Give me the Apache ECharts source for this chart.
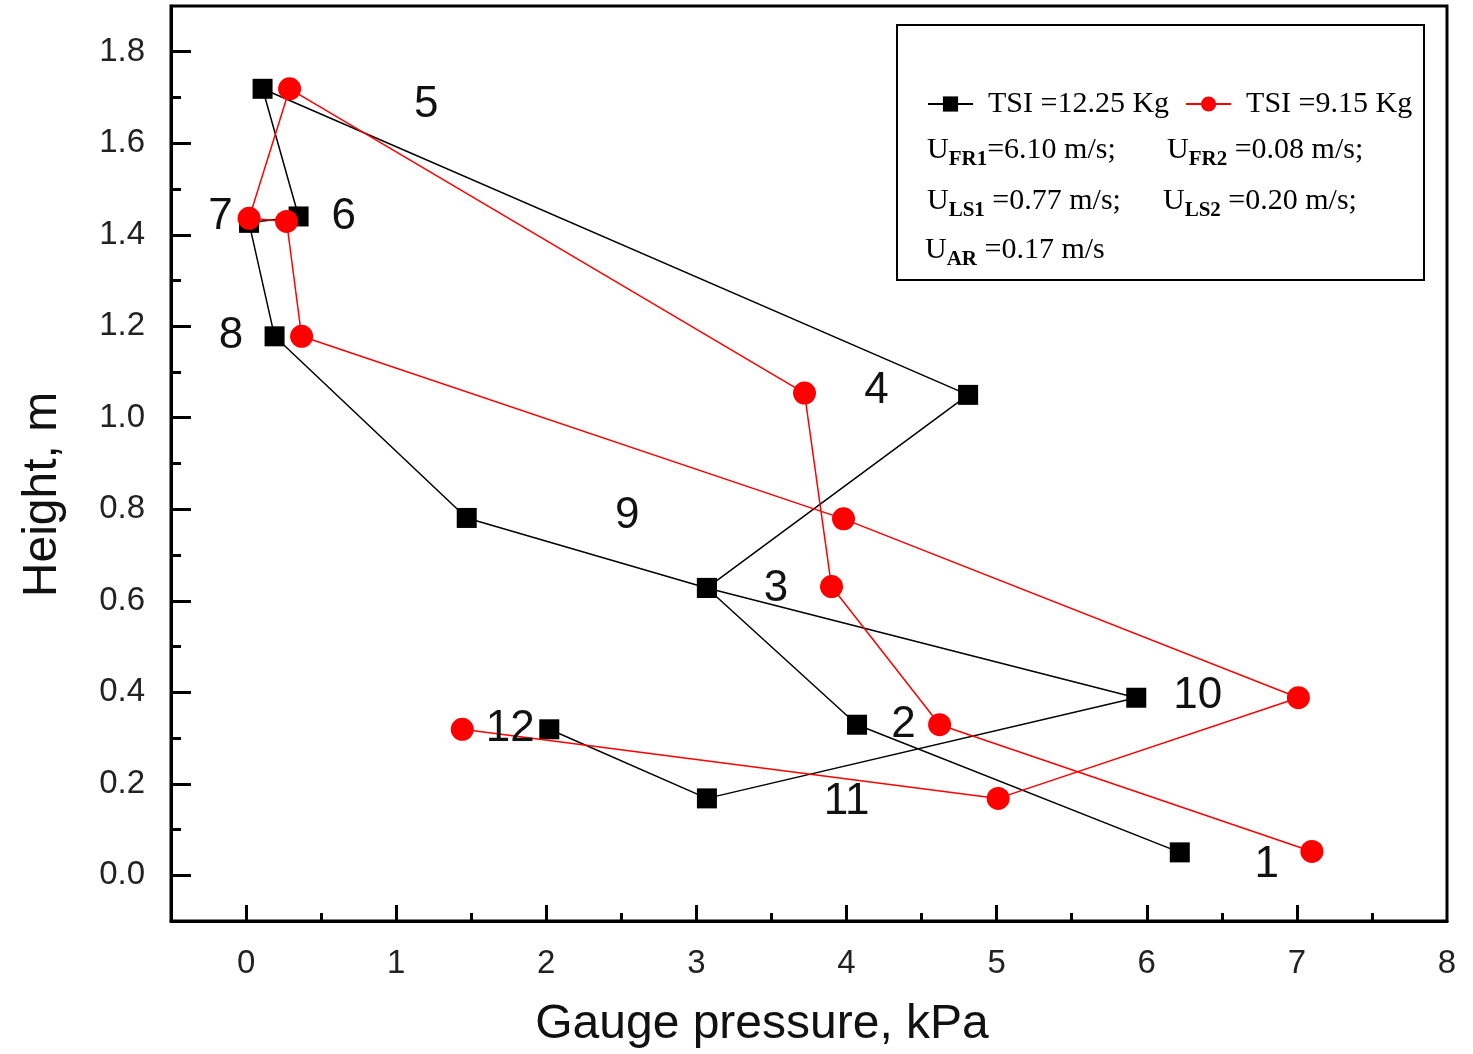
<!DOCTYPE html>
<html>
<head>
<meta charset="utf-8">
<title>Gauge pressure profile</title>
<script src="https://cdn.jsdelivr.net/npm/echarts@6/dist/echarts.min.js"></script>
<style>
  html, body { margin: 0; padding: 0; background: #fff; }
  #main { width: 1473px; height: 1054px; }
</style>
</head>
<body>
<div id="main"></div>
<script>
// data: [gauge pressure kPa, height m], in drawing order
var tsi1225 = [[6.22, 0.050], [4.07, 0.329], [3.07, 0.628], [4.81, 1.050], [0.11, 1.719],
  [0.35, 1.440], [0.02, 1.426], [0.19, 1.178], [1.47, 0.781], [3.07, 0.628],
  [5.93, 0.388], [3.07, 0.168], [2.02, 0.319]];
var tsi915 = [[7.10, 0.052], [4.62, 0.329], [3.90, 0.631], [3.72, 1.054], [0.29, 1.719],
  [0.02, 1.436], [0.27, 1.429], [0.37, 1.178], [3.98, 0.779], [7.01, 0.388],
  [5.01, 0.168], [1.44, 0.319]];
// point numbers and where they sit (data coords)
var pointNames = ['1', '2', '3', '4', '5', '6', '7', '8', '9', '10', '11', '12'];
var pointNameAt = [[6.80, 0.022], [4.38, 0.329], [3.53, 0.626], [4.20, 1.058], [1.20, 1.685],
  [0.65, 1.440], [-0.17, 1.440], [-0.10, 1.178], [2.54, 0.785], [6.34, 0.393],
  [4.00, 0.161], [1.76, 0.319]];
// axes
var xMajor = [0, 1, 2, 3, 4, 5, 6, 7];
var xLabels = [0, 1, 2, 3, 4, 5, 6, 7, 8];
var xMinor = [0.5, 1.5, 2.5, 3.5, 4.5, 5.5, 6.5, 7.5];
var yMajor = [0, 0.2, 0.4, 0.6, 0.8, 1.0, 1.2, 1.4, 1.6, 1.8];
var yMinor = [0.1, 0.3, 0.5, 0.7, 0.9, 1.1, 1.3, 1.5, 1.7];
var legendNames = ['TSI =12.25 Kg', 'TSI =9.15 Kg'];
var velocityLines = [
  ['FR1', '=6.10 m/s;'], ['FR2', ' =0.08 m/s;'],
  ['LS1', ' =0.77 m/s;'], ['LS2', ' =0.20 m/s;'],
  ['AR', ' =0.17 m/s']
];

var SANS = 'Liberation Sans, Arial, sans-serif';
var SERIF = 'Liberation Serif, Times New Roman, serif';

var chart = echarts.init(document.getElementById('main'));

var labelData = pointNames.map(function (n, i) {
  return { name: n, value: pointNameAt[i] };
});

// legend box texts with subscripts
var textPos = [[927, 152], [1167, 152], [927, 203], [1163, 203], [925, 252]];
var richStyle = {
  u: { fontFamily: SERIF, fontSize: 30, color: '#000', lineHeight: 34, verticalAlign: 'top' },
  s: { fontFamily: SERIF, fontSize: 21, fontWeight: 'bold', color: '#000', lineHeight: 21,
       verticalAlign: 'top', padding: [14, 0, 0, 0] }
};
var graphics = [{
  type: 'rect', z: 1,
  shape: { x: 897, y: 25, width: 527, height: 255 },
  style: { fill: '#fff', stroke: '#000', lineWidth: 2 }
}];
velocityLines.forEach(function (v, i) {
  graphics.push({
    type: 'text', z: 10, x: textPos[i][0], y: textPos[i][1],
    style: {
      text: '{u|U}{s|' + v[0] + '}{u|' + v[1] + '}',
      rich: richStyle, align: 'left', verticalAlign: 'middle'
    }
  });
});

var tickStyle = { color: '#000', width: 3 };

var option = {
  animation: false,
  backgroundColor: '#fff',
  grid: [
    { left: 171, top: 6, right: 26, bottom: 133, show: true, borderColor: '#000', borderWidth: 3 },
    { left: 171, top: 6, right: 26, bottom: 133, show: false }
  ],
  legend: {
    data: legendNames,
    left: 922, top: 84,
    itemWidth: 45, itemHeight: 19, itemGap: 16,
    selectedMode: false,
    textStyle: { fontFamily: SERIF, fontSize: 30, color: '#000', padding: [0, 0, 0, 10] },
    z: 10
  },
  graphic: graphics,
  xAxis: [{
    type: 'value', gridIndex: 0, min: -0.5, max: 8,
    name: 'Gauge pressure, kPa', nameLocation: 'middle', nameGap: 80,
    nameTextStyle: { fontFamily: SANS, fontSize: 48, color: '#111', padding: [0, 94, 0, 0] },
    axisLine: { show: true, onZero: false, lineStyle: { color: '#000', width: 3 } },
    axisTick: { show: true, inside: true, length: 16, customValues: xMajor, lineStyle: tickStyle },
    axisLabel: { customValues: xLabels, margin: 26, fontFamily: SANS, fontSize: 33, color: '#222' },
    splitLine: { show: false }
  }, {
    type: 'value', gridIndex: 1, min: -0.5, max: 8,
    axisLine: { show: false, onZero: false },
    axisTick: { show: true, inside: true, length: 8, customValues: xMinor, lineStyle: tickStyle },
    axisLabel: { show: false },
    splitLine: { show: false }
  }],
  yAxis: [{
    type: 'value', gridIndex: 0, min: -0.1, max: 1.9,
    name: 'Height, m', nameLocation: 'middle', nameGap: 104,
    nameTextStyle: { fontFamily: SANS, fontSize: 48, color: '#111', padding: [0, 62, 0, 0] },
    axisLine: { show: true, onZero: false, lineStyle: { color: '#000', width: 3 } },
    axisTick: { show: true, inside: true, length: 20, customValues: yMajor, lineStyle: tickStyle },
    axisLabel: {
      customValues: yMajor, margin: 26, fontFamily: SANS, fontSize: 33, color: '#222',
      formatter: function (v) { return v.toFixed(1); }
    },
    splitLine: { show: false }
  }, {
    type: 'value', gridIndex: 1, min: -0.1, max: 1.9,
    axisLine: { show: false, onZero: false },
    axisTick: { show: true, inside: true, length: 10, customValues: yMinor, lineStyle: tickStyle },
    axisLabel: { show: false },
    splitLine: { show: false }
  }],
  series: [{
    name: legendNames[0], type: 'line', xAxisIndex: 0, yAxisIndex: 0,
    data: tsi1225,
    symbol: 'rect', symbolSize: 20,
    lineStyle: { color: '#000', width: 1.5 },
    itemStyle: { color: '#000' },
    z: 3
  }, {
    name: legendNames[1], type: 'line', xAxisIndex: 0, yAxisIndex: 0,
    data: tsi915,
    symbol: 'circle', symbolSize: 23,
    lineStyle: { color: '#ff0000', width: 1.5 },
    itemStyle: { color: '#ff0000' },
    z: 4
  }, {
    name: 'numbers', type: 'scatter', xAxisIndex: 0, yAxisIndex: 0,
    data: labelData, symbolSize: 0, silent: true,
    itemStyle: { opacity: 1 },
    label: {
      show: true, position: 'inside', formatter: '{b}', opacity: 1,
      fontFamily: SANS, fontSize: 44, color: '#111'
    },
    z: 5
  }]
};

chart.setOption(option);
</script>
</body>
</html>
